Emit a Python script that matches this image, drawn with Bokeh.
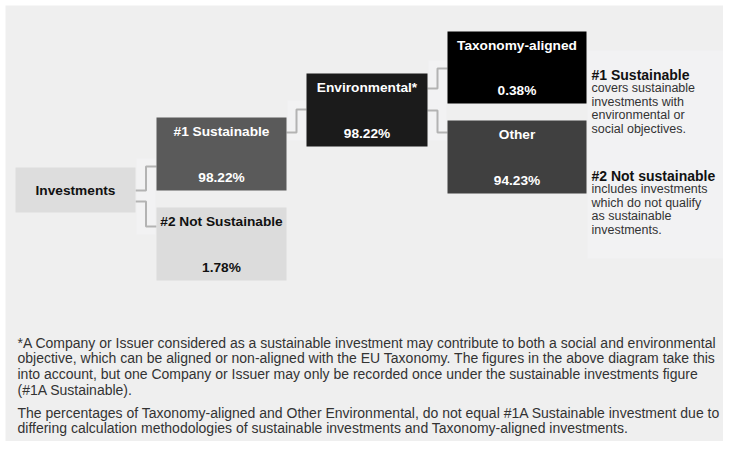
from bokeh.plotting import figure
from bokeh.models import Range1d, ColumnDataSource
from bokeh.core.properties import value
from bokeh.embed import file_html
from bokeh.resources import INLINE

# ---- data ----
node_names = ["Investments", "#1 Sustainable", "#2 Not Sustainable",
              "Environmental*", "Taxonomy-aligned", "Other"]
node_values = [None, 98.22, 1.78, 98.22, 0.38, 94.23]
edges = [("Investments", "#1 Sustainable"),
         ("Investments", "#2 Not Sustainable"),
         ("#1 Sustainable", "Environmental*"),
         ("Environmental*", "Taxonomy-aligned"),
         ("Environmental*", "Other")]

legend_1_title = "#1 Sustainable"
legend_1_lines = ["covers sustainable", "investments with", "environmental or", "social objectives."]
legend_2_title = "#2 Not sustainable"
legend_2_lines = ["includes investments", "which do not qualify", "as sustainable", "investments."]

footnote_1 = ["*A Company or Issuer considered as a sustainable investment may contribute to both a social and environmental",
              "objective, which can be aligned or non-aligned with the EU Taxonomy.  The figures in the above diagram take this",
              "into account, but one Company or Issuer may only be recorded once under the sustainable investments figure",
              "(#1A Sustainable)."]
footnote_2 = ["The percentages of Taxonomy-aligned and Other Environmental, do not equal #1A Sustainable investment due to",
              "differing calculation methodologies of sustainable investments and Taxonomy-aligned investments."]

# ---- layout (pixel-like coordinates: left, top, right, bottom) ----
layout = {
    "Investments": (15, 167, 135, 212),
    "#1 Sustainable": (156, 117, 286, 190),
    "#2 Not Sustainable": (156, 207, 286, 280),
    "Environmental*": (306, 73, 427, 146),
    "Taxonomy-aligned": (447, 31, 586, 103),
    "Other": (447, 120, 586, 193),
}
fill = {
    "Investments": "#dddddd",
    "#1 Sustainable": "#5a5a5a",
    "#2 Not Sustainable": "#dcdcdc",
    "Environmental*": "#1b1b1b",
    "Taxonomy-aligned": "#000000",
    "Other": "#404040",
}
ink = {
    "Investments": "#111111",
    "#1 Sustainable": "#ffffff",
    "#2 Not Sustainable": "#111111",
    "Environmental*": "#ffffff",
    "Taxonomy-aligned": "#ffffff",
    "Other": "#ffffff",
}
edge_anchor = {
    ("Investments", "#1 Sustainable"): (190, 166),
    ("Investments", "#2 Not Sustainable"): (201, 226),
    ("#1 Sustainable", "Environmental*"): (132, 109),
    ("Environmental*", "Taxonomy-aligned"): (88, 68),
    ("Environmental*", "Other"): (110, 132),
}

W, H = 723, 441
p = figure(width=W, height=H, output_backend="svg", toolbar_location=None,
           x_range=Range1d(0, W), y_range=Range1d(H, 0),
           min_border=0, outline_line_color=None, background_fill_color="white",
           border_fill_color="white")
p.axis.visible = False
p.grid.visible = False

FONT = value("Liberation Sans")

# background panel
p.quad(left=[5], right=[731], top=[5], bottom=[446], fill_color="#efefef", line_color=None)
# subtle lighter panels
p.quad(left=[136, 287, 428, 587], right=[155, 305, 446, 731], top=[158, 100, 60, 50],
       bottom=[234, 140, 140, 258], fill_color="#f2f2f3", line_color=None)

# connectors
xs, ys = [], []
for s, t in edges:
    sx = layout[s][2]
    tx = layout[t][0]
    mx = (sx + tx) / 2
    y0, y1 = edge_anchor[(s, t)]
    xs.append([sx, mx, mx, tx])
    ys.append([y0, y0, y1, y1])
p.multi_line(xs=xs, ys=ys, line_color="#b3b3b3", line_width=2)

# boxes
src = ColumnDataSource(dict(
    left=[layout[n][0] for n in node_names],
    top=[layout[n][1] for n in node_names],
    right=[layout[n][2] for n in node_names],
    bottom=[layout[n][3] for n in node_names],
    color=[fill[n] for n in node_names],
))
p.quad(left="left", right="right", top="top", bottom="bottom", fill_color="color",
       line_color=None, source=src)

# labels
tx, ty, tt, tc = [], [], [], []
for n, v in zip(node_names, node_values):
    l, t, r, b = layout[n]
    cx = (l + r) / 2
    if v is None:
        tx.append(cx); ty.append((t + b) / 2); tt.append(n); tc.append(ink[n])
    else:
        tx.append(cx); ty.append(t + 14); tt.append(n); tc.append(ink[n])
        tx.append(cx); ty.append(b - 13); tt.append(f"{v:.2f}%"); tc.append(ink[n])
p.text(x=tx, y=ty, text=tt, text_color=tc, text_align="center", text_baseline="middle",
       text_font=FONT, text_font_style="bold", text_font_size="13.7px")

# right-hand legend text
lx = 591
p.text(x=[lx, lx], y=[74, 175], text=[legend_1_title, legend_2_title], text_color="#111111",
       text_align="left", text_baseline="middle", text_font=FONT, text_font_style="bold",
       text_font_size="14px")
ly1 = [74 + 13.6 * (i + 1) for i in range(len(legend_1_lines))]
ly2 = [175 + 13.6 * (i + 1) for i in range(len(legend_2_lines))]
p.text(x=[lx] * (len(ly1) + len(ly2)), y=ly1 + ly2, text=legend_1_lines + legend_2_lines,
       text_color="#333333", text_align="left", text_baseline="middle", text_font=FONT,
       text_font_size="12.5px")

# footnotes
fy1 = [342 + 15.7 * i for i in range(len(footnote_1))]
fy2 = [412 + 15.7 * i for i in range(len(footnote_2))]
p.text(x=[17] * (len(fy1) + len(fy2)), y=fy1 + fy2, text=footnote_1 + footnote_2,
       text_color="#333333", text_align="left", text_baseline="middle", text_font=FONT,
       text_font_size="14px")

open("out.html", "w").write(file_html(p, INLINE))
